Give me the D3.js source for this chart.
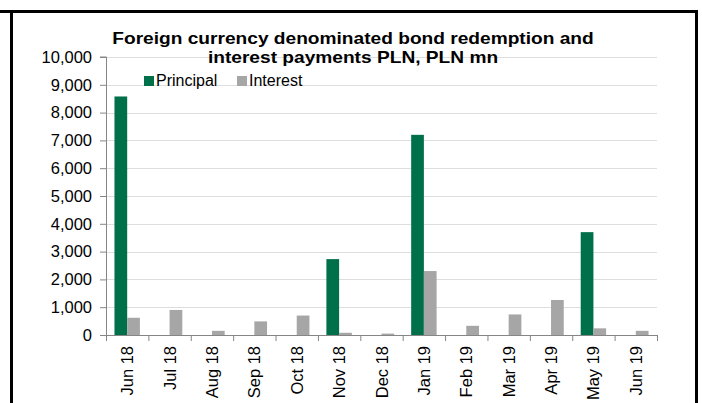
<!DOCTYPE html>
<html>
<head>
<meta charset="utf-8">
<script src="https://cdn.jsdelivr.net/npm/d3@7"></script>
<style>
  body { margin: 0; background: #fff; }
  svg { display: block; font-family: "Liberation Sans", Arial, sans-serif; }
</style>
</head>
<body>
<svg id="chart" width="702" height="403"></svg>
<script>
// Chart data
var months = ["Jun 18", "Jul 18", "Aug 18", "Sep 18", "Oct 18", "Nov 18", "Dec 18",
              "Jan 19", "Feb 19", "Mar 19", "Apr 19", "May 19", "Jun 19"];
var principal = [8580, 0, 0, 0, 0, 2730, 0, 7200, 0, 0, 0, 3700, 0];
var interest = [620, 900, 150, 490, 700, 80, 50, 2300, 330, 740, 1260, 240, 150];
var seriesNames = ["Principal", "Interest"];
var yTicks = [0, 1000, 2000, 3000, 4000, 5000, 6000, 7000, 8000, 9000, 10000];

var colors = ["#00704a", "#a6a6a6"];

var svg = d3.select("#chart");

// Frame lines
svg.append("path")
  .attr("d", "M0,11.5H696.5V403M11.5,11.5V403")
  .attr("fill", "none")
  .attr("stroke", "#000")
  .attr("stroke-width", 3);

var margin = { left: 106, right: 45, top: 57, bottom: 68 };
var width = 702 - margin.left - margin.right;
var height = 403 - margin.top - margin.bottom;

var g = svg.append("g")
  .attr("transform", "translate(" + margin.left + "," + margin.top + ")");

var x0 = d3.scaleBand().domain(months).range([0, width]).padding(0);
var x1 = d3.scaleBand().domain(seriesNames)
  .range([x0.bandwidth() * 0.2, x0.bandwidth() * 0.8]).padding(0);
var y = d3.scaleLinear().domain([0, 10000]).range([height, 0]);
var color = d3.scaleOrdinal().domain(seriesNames).range(colors);

// Gridlines
g.append("g")
  .selectAll("line")
  .data(yTicks.slice(1))
  .enter().append("line")
  .attr("x1", 0)
  .attr("x2", width)
  .attr("y1", function(d) { return Math.round(y(d)) + 0.5; })
  .attr("y2", function(d) { return Math.round(y(d)) + 0.5; })
  .attr("stroke", "#dedede")
  .attr("stroke-width", 1);

// Bars
var rows = months.map(function(m, i) {
  return { month: m, values: [
    { key: "Principal", value: principal[i] },
    { key: "Interest", value: interest[i] }
  ] };
});

var groups = g.selectAll(".month")
  .data(rows)
  .enter().append("g")
  .attr("class", "month")
  .attr("transform", function(d) { return "translate(" + x0(d.month) + ",0)"; });

groups.selectAll("rect")
  .data(function(d) { return d.values.filter(function(v) { return v.value > 0; }); })
  .enter().append("rect")
  .attr("x", function(d) { return x1(d.key); })
  .attr("width", x1.bandwidth())
  .attr("y", function(d) { return y(d.value); })
  .attr("height", function(d) { return height - y(d.value); })
  .attr("fill", function(d) { return color(d.key); });

// Y axis
var yAxis = g.append("g")
  .call(d3.axisLeft(y).tickValues(yTicks).tickSize(6).tickPadding(8)
    .tickFormat(d3.format(",")));
yAxis.selectAll("line, path").attr("stroke", "#868686");
yAxis.select(".domain").attr("d", "M-6," + y(10000) + "H0.5V" + height);
yAxis.selectAll("text")
  .attr("font-size", 16.5)
  .attr("font-family", "Liberation Sans, Arial, sans-serif")
  .attr("fill", "#000");

// X axis with ticks at category boundaries
var xg = g.append("g").attr("transform", "translate(0," + height + ")");
xg.append("line")
  .attr("x1", 0).attr("x2", width)
  .attr("y1", 0.5).attr("y2", 0.5)
  .attr("stroke", "#868686");
xg.selectAll(".xtick")
  .data(months.concat(["end"]))
  .enter().append("line")
  .attr("class", "xtick")
  .attr("x1", function(d, i) { return i * x0.step() + 0.5; })
  .attr("x2", function(d, i) { return i * x0.step() + 0.5; })
  .attr("y1", 0).attr("y2", 6)
  .attr("stroke", "#868686");
xg.selectAll(".xlabel")
  .data(months)
  .enter().append("text")
  .attr("class", "xlabel")
  .attr("transform", function(d) {
    return "translate(" + (x0(d) + x0.bandwidth() / 2 + 6) + ",11) rotate(-90)";
  })
  .attr("text-anchor", "end")
  .attr("font-size", 16.5)
  .attr("fill", "#000")
  .text(function(d) { return d; });

// Title (slightly wide lettering, as in the source)
var title = svg.append("text")
  .attr("transform", "translate(353,0) scale(1.16,1)")
  .attr("text-anchor", "middle")
  .attr("font-weight", "bold")
  .attr("font-size", 16.5)
  .attr("fill", "#000");
title.append("tspan").attr("x", 0).attr("y", 44)
  .text("Foreign currency denominated bond redemption and");
title.append("tspan").attr("x", 0).attr("y", 63)
  .text("interest payments PLN, PLN mn");

// Legend
var legendX = [144, 237];
var legend = svg.selectAll(".legend")
  .data(seriesNames)
  .enter().append("g")
  .attr("class", "legend")
  .attr("transform", function(d, i) { return "translate(" + legendX[i] + ",76)"; });
legend.append("rect")
  .attr("width", 10).attr("height", 10)
  .attr("fill", function(d) { return color(d); });
legend.append("text")
  .attr("x", 12).attr("y", 10)
  .attr("font-size", 16)
  .attr("fill", "#000")
  .text(function(d) { return d; });
</script>
</body>
</html>
